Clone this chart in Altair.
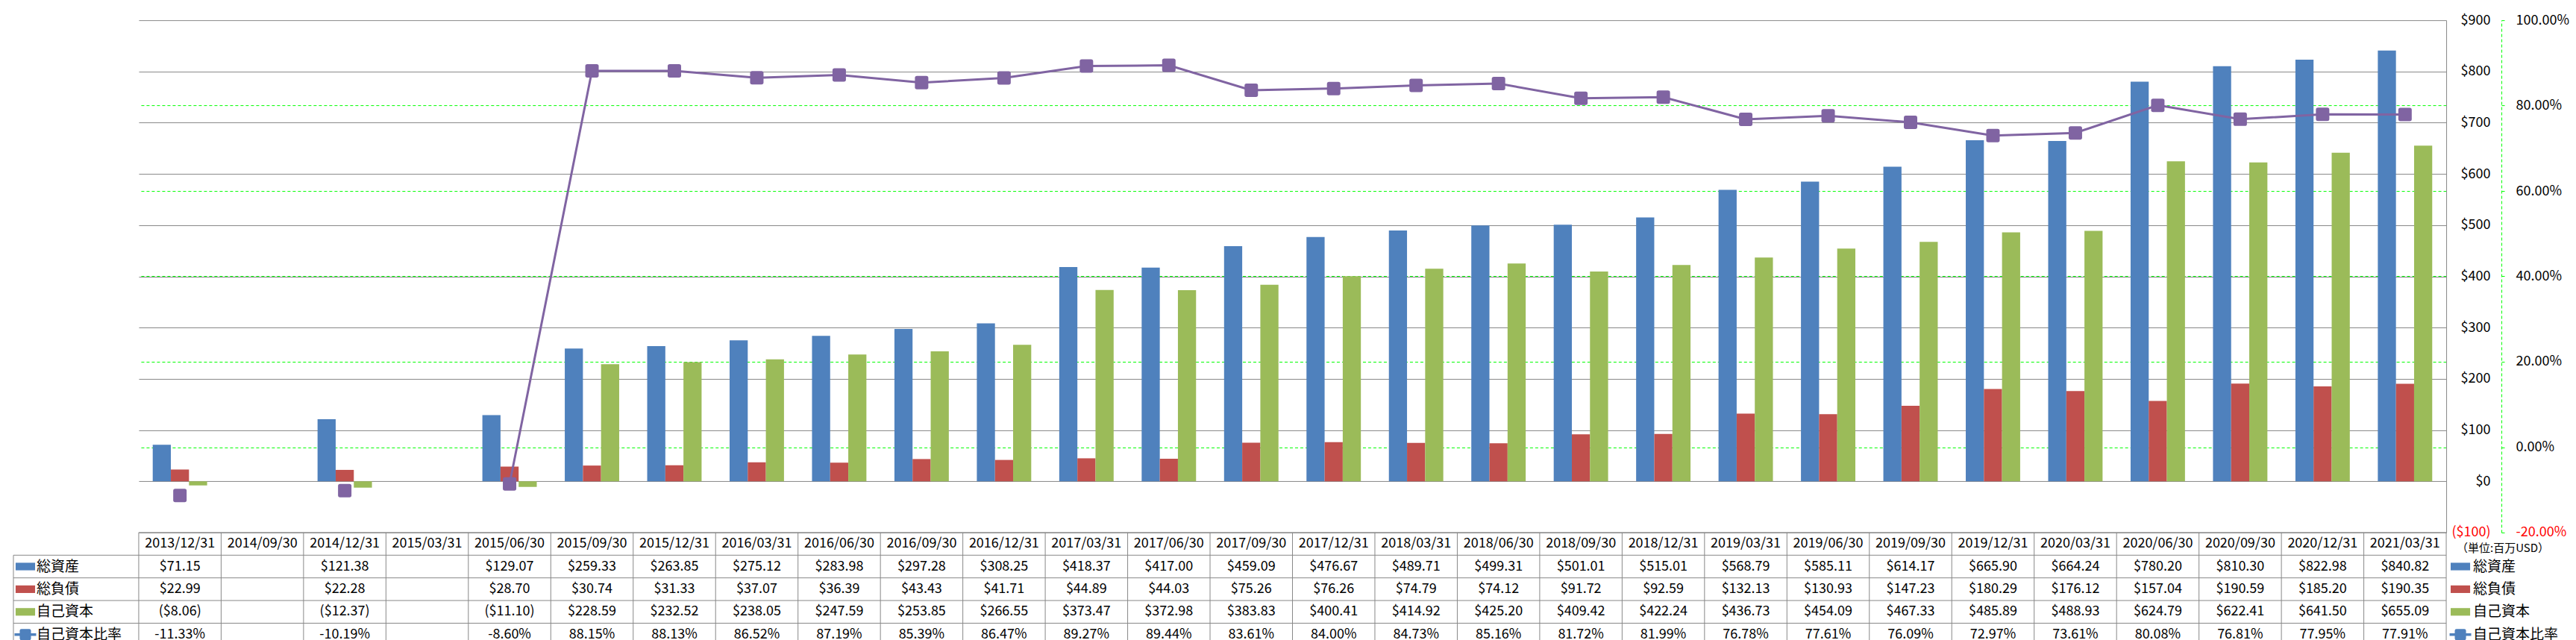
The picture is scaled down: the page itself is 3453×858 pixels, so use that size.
import altair as alt
import pandas as pd

# ---------------- data ----------------
cats = ["2013/12/31", "2014/09/30", "2014/12/31", "2015/03/31", "2015/06/30",
        "2015/09/30", "2015/12/31", "2016/03/31", "2016/06/30", "2016/09/30",
        "2016/12/31", "2017/03/31", "2017/06/30", "2017/09/30", "2017/12/31",
        "2018/03/31", "2018/06/30", "2018/09/30", "2018/12/31", "2019/03/31",
        "2019/06/30", "2019/09/30", "2019/12/31", "2020/03/31", "2020/06/30",
        "2020/09/30", "2020/12/31", "2021/03/31"]
series = ["総資産", "総負債", "自己資本"]
ratio_name = "自己資本比率"
assets = [71.15, None, 121.38, None, 129.07, 259.33, 263.85, 275.12, 283.98, 297.28,
          308.25, 418.37, 417.00, 459.09, 476.67, 489.71, 499.31, 501.01, 515.01, 568.79,
          585.11, 614.17, 665.90, 664.24, 780.20, 810.30, 822.98, 840.82]
liabilities = [22.99, None, 22.28, None, 28.70, 30.74, 31.33, 37.07, 36.39, 43.43,
               41.71, 44.89, 44.03, 75.26, 76.26, 74.79, 74.12, 91.72, 92.59, 132.13,
               130.93, 147.23, 180.29, 176.12, 157.04, 190.59, 185.20, 190.35]
equity = [-8.06, None, -12.37, None, -11.10, 228.59, 232.52, 238.05, 247.59, 253.85,
          266.55, 373.47, 372.98, 383.83, 400.41, 414.92, 425.20, 409.42, 422.24, 436.73,
          454.09, 467.33, 485.89, 488.93, 624.79, 622.41, 641.50, 655.09]
ratio_pct = [-11.33, None, -10.19, None, -8.60, 88.15, 88.13, 86.52, 87.19, 85.39,
             86.47, 89.27, 89.44, 83.61, 84.00, 84.73, 85.16, 81.72, 81.99, 76.78,
             77.61, 76.09, 72.97, 73.61, 80.08, 76.81, 77.95, 77.91]
money_ticks = [-100, 0, 100, 200, 300, 400, 500, 600, 700, 800, 900]
pct_ticks = [-0.2, 0.0, 0.2, 0.4, 0.6, 0.8, 1.0]
unit_text = "（単位:百万USD）"

# ---------------- styling ----------------
COLORS = ["#4F81BD", "#C0504D", "#9BBB59", "#8064A2"]
PURPLE = COLORS[3]
GRID = "#888888"
GREEN = "#00ff00"
FONT = "Noto Sans CJK JP"
W = 3094
H_MAIN = 687
H_TAB = 152
LBL_W = 168

RSQ = ("M-0.7,-1 L0.7,-1 Q1,-1 1,-0.7 L1,0.7 Q1,1 0.7,1 L-0.7,1 "
       "Q-1,1 -1,0.7 L-1,-0.7 Q-1,-1 -0.7,-1 Z")
SWATCH_RECT = "M-0.9,-0.35 L0.9,-0.35 L0.9,0.35 L-0.9,0.35 Z"
SWATCH_LINE = ("M-1,-0.12 L1,-0.12 L1,0.12 L-1,0.12 Z "
               "M-0.36,-0.52 L0.36,-0.52 Q0.52,-0.52 0.52,-0.36 L0.52,0.36 "
               "Q0.52,0.52 0.36,0.52 L-0.36,0.52 Q-0.52,0.52 -0.52,0.36 "
               "L-0.52,-0.36 Q-0.52,-0.52 -0.36,-0.52 Z")

row_names = series + [ratio_name]
row_domain = ["header"] + row_names

# ---------------- frames ----------------
bar_rows = []
for s, vals in zip(series, [assets, liabilities, equity]):
    for c, v in zip(cats, vals):
        if v is not None:
            bar_rows.append({"cat": c, "series": s, "value": v})
df_bar = pd.DataFrame(bar_rows)

line_rows = []
seg = 0
prev = None
for i, (c, v) in enumerate(zip(cats, ratio_pct)):
    if v is None:
        prev = None
        continue
    if prev is None or prev != i - 1:
        seg += 1
    line_rows.append({"cat": c, "ratio": v / 100.0, "seg": seg})
    prev = i
df_line = pd.DataFrame(line_rows)


def money(v):
    return f"(${-v:,.2f})" if v < 0 else f"${v:,.2f}"


tab_rows = []
for name, vals in zip(row_names, [assets, liabilities, equity, ratio_pct]):
    for c, v in zip(cats, vals):
        if v is None:
            continue
        txt = f"{v:.2f}%" if name == ratio_name else money(v)
        tab_rows.append({"cat": c, "row": name, "txt": txt})
df_tab = pd.DataFrame(tab_rows)
df_hdr = pd.DataFrame({"cat": cats, "row": ["header"] * len(cats)})
df_rows = pd.DataFrame({"row": row_names})
df_rowlines = pd.DataFrame({"row": row_domain})

# ---------------- main chart ----------------
xscale = alt.Scale(domain=cats, paddingInner=0.34, paddingOuter=0.17)
neg_red = {"condition": {"test": "datum.value < 0", "value": "#ff0000"}, "value": "#000000"}
green_grid_op = {"condition": {"test": "datum.value > 0.99 || datum.value < -0.19", "value": 0},
                 "value": 1}

bars = alt.Chart(df_bar).mark_bar().encode(
    x=alt.X("cat:N", scale=xscale, axis=None, sort=cats),
    xOffset=alt.XOffset("series:N", sort=series,
                        scale=alt.Scale(domain=series, paddingInner=0, paddingOuter=0)),
    y=alt.Y("value:Q",
            scale=alt.Scale(domain=[-100, 900], nice=False, zero=False),
            axis=alt.Axis(orient="right", values=money_ticks, title=None,
                          grid=True, gridColor=GRID, gridWidth=1,
                          domain=True, domainColor=GRID, domainWidth=1,
                          ticks=False, tickSize=0, labelAlign="right", labelPadding=59,
                          labelExpr="datum.value < 0 ? '($' + format(-datum.value, 'd') + ')' : '$' + format(datum.value, 'd')",
                          labelColor=neg_red)),
    color=alt.Color("series:N", scale=alt.Scale(domain=series, range=COLORS[:3]), legend=None),
)

line = alt.Chart(df_line).mark_line(
    color=PURPLE, strokeWidth=3,
    point=alt.OverlayMarkDef(shape=RSQ, filled=True, size=324, color=PURPLE,
                             opacity=1, strokeWidth=0),
).encode(
    x=alt.X("cat:N", scale=xscale, axis=None, sort=cats),
    y=alt.Y("ratio:Q",
            scale=alt.Scale(domain=[-0.2, 1.0], nice=False, zero=False),
            axis=alt.Axis(orient="right", offset=74, values=pct_ticks, title=None,
                          grid=True, gridColor=GREEN, gridDash=[4, 3], gridWidth=1,
                          gridOpacity=green_grid_op,
                          domain=True, domainColor=GREEN, domainDash=[4, 3], domainWidth=1,
                          ticks=True, tickColor=GREEN, tickSize=4, labelPadding=15,
                          labelAlign="left",
                          labelExpr="datum.value < 0 ? '-' + format(-datum.value, '.2%') : format(datum.value, '.2%')",
                          labelColor=neg_red)),
    detail="seg:N",
)

main = alt.layer(bars, line).resolve_scale(y="independent").properties(width=W, height=H_MAIN)

# ---------------- table chart ----------------
xtab = alt.Scale(domain=cats, paddingInner=0, paddingOuter=0)
yrow = alt.Scale(domain=row_domain, paddingInner=0, paddingOuter=0)

vlines = alt.Chart(df_hdr).mark_rule(color=GRID, strokeWidth=1).encode(
    x=alt.X("cat:N", scale=xtab, axis=None, sort=cats, bandPosition=0))
vlast = alt.Chart(df_hdr.tail(1)).mark_rule(color=GRID, strokeWidth=1).encode(
    x=alt.X("cat:N", scale=xtab, axis=None, sort=cats, bandPosition=1))
hlines = alt.Chart(df_rowlines).mark_rule(color=GRID, strokeWidth=1).encode(
    y=alt.Y("row:N", scale=yrow, axis=None, sort=row_domain, bandPosition=0))
hlast = alt.Chart(df_rowlines.tail(1)).mark_rule(color=GRID, strokeWidth=1).encode(
    y=alt.Y("row:N", scale=yrow, axis=None, sort=row_domain, bandPosition=1))
hdr_text = alt.Chart(df_hdr).mark_text(font=FONT, fontSize=18, color="#000000").encode(
    x=alt.X("cat:N", scale=xtab, axis=None, sort=cats),
    y=alt.Y("row:N", scale=yrow, axis=None, sort=row_domain),
    text="cat:N")
val_text = alt.Chart(df_tab).mark_text(font=FONT, fontSize=18, color="#000000").encode(
    x=alt.X("cat:N", scale=xtab, axis=None, sort=cats),
    y=alt.Y("row:N", scale=yrow, axis=None, sort=row_domain),
    text="txt:N")

shape_scale = alt.Scale(domain=row_names, range=[SWATCH_RECT] * 3 + [SWATCH_LINE])
color_scale = alt.Scale(domain=row_names, range=COLORS)

leg_sw = alt.Chart(df_rows).mark_point(filled=True, opacity=1, strokeWidth=0, size=841).encode(
    x=alt.value(W + 19),
    y=alt.Y("row:N", scale=yrow, axis=None, sort=row_domain),
    shape=alt.Shape("row:N", scale=shape_scale, legend=None),
    color=alt.Color("row:N", scale=color_scale, legend=None))
leg_txt = alt.Chart(df_rows).mark_text(font=FONT, fontSize=19, align="left", color="#000000").encode(
    x=alt.value(W + 36),
    y=alt.Y("row:N", scale=yrow, axis=None, sort=row_domain),
    text="row:N")
unit = alt.Chart(pd.DataFrame({"row": ["header"], "t": [unit_text]})).mark_text(
    font=FONT, fontSize=15, align="left", dy=6, color="#000000").encode(
    x=alt.value(W + 14),
    y=alt.Y("row:N", scale=yrow, axis=None, sort=row_domain),
    text="t:N")

table = alt.layer(vlines, vlast, hlines, hlast, hdr_text, val_text, leg_sw, leg_txt, unit).properties(
    width=W, height=H_TAB)

# ---------------- row label column ----------------
lab_h = alt.Chart(df_rows).mark_rule(color=GRID, strokeWidth=1).encode(
    y=alt.Y("row:N", scale=yrow, axis=None, sort=row_domain, bandPosition=0))
lab_b = alt.Chart(df_rows.tail(1)).mark_rule(color=GRID, strokeWidth=1).encode(
    y=alt.Y("row:N", scale=yrow, axis=None, sort=row_domain, bandPosition=1))
lab_l = alt.Chart(df_rows.head(1)).mark_rule(color=GRID, strokeWidth=1).encode(
    x=alt.value(0),
    y=alt.Y("row:N", scale=yrow, axis=None, sort=row_domain, bandPosition=0),
    y2=alt.value(H_TAB))
lab_sw = alt.Chart(df_rows).mark_point(filled=True, opacity=1, strokeWidth=0, size=841).encode(
    x=alt.value(16),
    y=alt.Y("row:N", scale=yrow, axis=None, sort=row_domain),
    shape=alt.Shape("row:N", scale=shape_scale, legend=None),
    color=alt.Color("row:N", scale=color_scale, legend=None))
lab_txt = alt.Chart(df_rows).mark_text(font=FONT, fontSize=19, align="left", color="#000000").encode(
    x=alt.value(31),
    y=alt.Y("row:N", scale=yrow, axis=None, sort=row_domain),
    text="row:N")
labels = alt.layer(lab_h, lab_b, lab_l, lab_sw, lab_txt).properties(width=LBL_W, height=H_TAB)

blank = alt.Chart(pd.DataFrame({"v": [0]})).mark_point(opacity=0).properties(
    width=LBL_W, height=H_MAIN)

chart = alt.concat(blank, main, labels, table, columns=2, spacing=0, bounds="flush").properties(
    padding={"left": 9, "top": 9, "right": 0, "bottom": 0}
).configure_view(stroke="transparent").configure_axis(
    labelFont=FONT, labelFontSize=18
)

chart.save("out.html", embed_options={"renderer": "svg", "actions": False})
